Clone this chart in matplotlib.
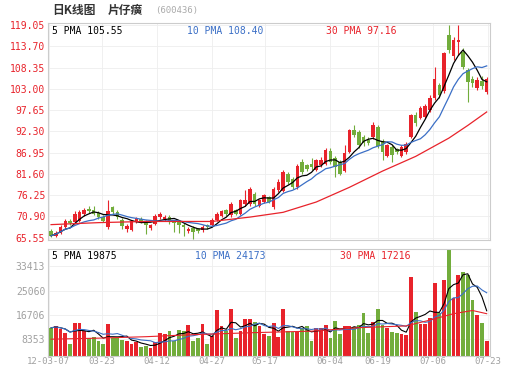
import numpy as np
import pandas as pd
import matplotlib.pyplot as plt

# daily bars 12-03-07 .. 07-23
opens = [67.2, 66.0, 66.8, 68.2, 69.8, 69.4, 69.8, 71.4, 72.8, 72.4,
         71.8, 70.8, 68.2, 73.2, 72.0, 70.0, 67.6, 67.4, 69.6, 70.2,
         69.6, 67.9, 69.0, 70.6, 70.2, 70.8, 69.6, 69.4, 68.8, 67.2,
         68.0, 67.6, 67.4, 68.6, 68.8, 70.0, 71.0, 72.4, 71.2, 72.4,
         71.6, 74.0, 74.0, 76.5, 73.6, 74.6, 75.7, 73.2, 77.5, 77.4,
         81.6, 80.3, 78.2, 84.6, 83.8, 84.2, 82.6, 83.8, 84.2, 87.4,
         85.6, 84.6, 82.4, 87.2, 92.6, 92.2, 91.0, 90.2, 90.8, 93.4,
         90.0, 86.2, 88.4, 87.8, 86.2, 87.0, 90.9, 96.4, 95.8, 96.0,
         97.6, 100.6, 104.0, 102.4, 116.6, 111.2, 114.9, 112.4, 107.7, 105.6,
         103.2, 105.0, 102.2]
closes = [66.0, 66.8, 68.2, 69.6, 69.2, 71.6, 72.0, 72.6, 72.2, 71.6,
          70.6, 69.8, 72.2, 72.0, 70.6, 68.4, 68.4, 69.8, 70.4, 69.6,
          68.6, 68.6, 71.0, 71.4, 70.8, 69.4, 69.2, 68.6, 68.2, 67.8,
          67.0, 67.2, 68.2, 68.2, 70.0, 71.4, 72.2, 71.6, 74.0, 71.6,
          74.9, 74.9, 77.8, 74.0, 74.9, 76.2, 74.6, 77.8, 79.5, 82.0,
          79.5, 78.2, 83.7, 82.0, 82.8, 83.2, 85.0, 85.0, 87.6, 84.6,
          83.4, 81.6, 86.8, 92.6, 91.3, 88.8, 89.5, 89.4, 93.8, 88.6,
          87.2, 88.8, 86.4, 87.0, 88.4, 89.2, 96.4, 94.3, 98.1, 98.6,
          100.6, 105.6, 101.5, 112.0, 112.8, 115.3, 115.4, 108.6, 104.8, 104.6,
          105.2, 103.8, 105.6]
highs = [67.6, 67.2, 68.6, 70.2, 70.2, 72.2, 72.6, 72.9, 73.4, 73.6,
         72.2, 71.2, 75.0, 73.6, 72.4, 70.4, 69.0, 70.0, 70.8, 70.6,
         70.0, 69.0, 71.6, 71.9, 71.2, 71.2, 70.0, 69.8, 69.2, 68.2,
         68.4, 68.0, 68.6, 69.0, 70.4, 72.0, 72.6, 72.8, 74.5, 72.8,
         75.3, 77.5, 78.3, 76.9, 75.3, 76.6, 76.1, 78.2, 80.2, 82.6,
         82.0, 80.7, 84.0, 85.4, 84.2, 85.6, 85.4, 85.8, 88.2, 88.0,
         86.0, 85.0, 88.8, 93.0, 93.8, 92.6, 91.4, 90.8, 94.7, 93.8,
         90.4, 89.2, 88.8, 88.2, 88.8, 89.6, 96.8, 97.2, 98.6, 99.2,
         101.5, 108.6, 104.6, 112.4, 119.05, 116.0, 119.05, 113.2, 108.4, 106.2,
         106.0, 106.3, 106.0]
lows = [65.6, 65.6, 66.5, 67.9, 68.8, 69.0, 69.5, 71.0, 71.8, 71.2,
        70.2, 69.4, 67.8, 71.6, 70.2, 67.6, 67.0, 67.2, 69.2, 69.2,
        66.5, 67.5, 68.6, 70.2, 69.8, 69.0, 67.0, 66.6, 66.0, 66.8,
        65.3, 66.8, 67.0, 67.6, 68.4, 69.6, 70.6, 71.0, 70.8, 71.2,
        71.2, 73.6, 73.6, 73.6, 73.2, 74.2, 74.2, 72.8, 77.1, 77.0,
        79.1, 77.8, 77.8, 81.6, 82.2, 82.6, 82.2, 83.4, 83.8, 84.2,
        80.8, 81.2, 82.0, 86.8, 90.8, 88.2, 88.6, 88.8, 90.4, 88.2,
        85.0, 85.8, 84.6, 86.6, 85.8, 86.6, 90.6, 93.6, 95.4, 95.6,
        97.2, 100.2, 100.8, 102.0, 112.0, 110.4, 111.6, 108.0, 99.6, 103.6,
        102.8, 103.0, 101.8]
volumes = [12361, 12918, 11804, 10691, 6793, 14031, 14031, 11248, 9021, 9244,
           7685, 6793, 13697, 9021, 9021, 8130, 7685, 6793, 7351, 5681,
           6237, 5347, 7351, 10691, 10134, 11248, 7908, 11470, 11248, 13253,
           7685, 8798, 13697, 6793, 9579, 18484, 13141, 11248, 18707, 8798,
           11248, 15256, 15478, 14365, 12918, 10134, 9579, 14031, 9356, 18707,
           11248, 11025, 11025, 12139, 12918, 7685, 12361, 12139, 13475, 9021,
           14810, 10357, 12918, 12918, 12584, 13253, 17371, 10691, 14254, 18818,
           13253, 12361, 11025, 10691, 10357, 9800, 29840, 17705, 13697, 13697,
           15701, 27725, 17371, 28838, 39400, 22610, 30397, 31600, 30500, 22000,
           16800, 14031, 7685]

# 30-day averages need data from before the window, so read them off the chart
ma30_days = [0, 10, 20, 34, 42, 49, 56, 63, 70, 77, 84, 88, 92]
ma30_vals = [68.8, 69.3, 69.6, 69.6, 70.7, 71.9, 74.5, 78.2, 82.3, 86.0, 90.6, 93.8, 97.2]
vma30_days = [0, 10, 20, 30, 43, 55, 65, 75, 80, 85, 89, 92]
vma30_vals = [8450, 8800, 9300, 10000, 10700, 11200, 12400, 13000, 15000, 17200, 18300, 17200]

price_ticks = [65.55, 70.90, 76.25, 81.60, 86.95, 92.30, 97.65, 103.00, 108.35, 113.70, 119.05]
vol_ticks = [8353, 16706, 25060, 33413]
date_labels = ['12-03-07', '03-23', '04-12', '04-27', '05-17', '06-04', '06-19', '07-06', '07-23']
date_pos = [-0.5, 10.8, 22.4, 34.0, 45.1, 58.9, 69.0, 80.6, 92.2]

RED = '#e8232b'
GREEN = '#72ad3c'
BLUE = '#3b6fc6'
MONO = 'DejaVu Sans Mono'

n = len(closes)
x = np.arange(n)
o = np.array(opens); c = np.array(closes)
up = c >= o
cols = [RED if u else GREEN for u in up]
ma5 = pd.Series(closes).rolling(5, min_periods=1).mean()
ma10 = pd.Series(closes).rolling(10, min_periods=1).mean()
vma5 = pd.Series(volumes).rolling(5, min_periods=1).mean()
vma10 = pd.Series(volumes).rolling(10, min_periods=1).mean()

fig = plt.figure(figsize=(5.09, 3.67), dpi=100, facecolor='white')
ax = fig.add_axes([0.0943, 0.3447, 0.8684, 0.5913])
axv = fig.add_axes([0.0943, 0.030, 0.8684, 0.2915])

# candles
ax.vlines(x, lows, highs, colors=cols, lw=0.8, zorder=2)
ax.bar(x, np.abs(c - o), bottom=np.minimum(o, c), width=0.75, color=cols, zorder=3)
ax.plot(x, ma5, color='black', lw=0.9, zorder=4)
ax.plot(x, ma10, color=BLUE, lw=0.9, zorder=4)
ax.plot(ma30_days, ma30_vals, color=RED, lw=0.9, zorder=4)

# volume
axv.bar(x, volumes, width=0.8, color=cols, zorder=2)
axv.plot(x, vma5, color='black', lw=0.8, zorder=3)
axv.plot(x, vma10, color=BLUE, lw=0.8, zorder=3)
axv.plot(vma30_days, vma30_vals, color=RED, lw=0.8, zorder=3)

for a in (ax, axv):
    a.set_xlim(-0.65, 92.7)
    a.set_xticks(date_pos)
    a.grid(True, color='#eeeeee', lw=0.6, zorder=0)
    a.set_axisbelow(True)
    a.tick_params(length=0, pad=2)
    for s in a.spines.values():
        s.set_color('#cccccc')
        s.set_linewidth(0.8)

ax.set_ylim(64.8, 119.5)
ax.set_yticks(price_ticks)
ax.set_yticklabels(['%.2f' % t for t in price_ticks], color=RED, family=MONO, fontsize=7)
ax.set_xticklabels([])

axv.set_ylim(2675, 39415)
axv.set_yticks(vol_ticks)
axv.set_yticklabels([str(t) for t in vol_ticks], color='#a0a0a0', family=MONO, fontsize=7)
axv.set_xticklabels(date_labels, color='#a0a0a0', family=MONO, fontsize=6.5)
axv.tick_params(axis='x', pad=0.5)

ax.text(0.009, 0.965, '5 PMA 105.55', transform=ax.transAxes, family=MONO, fontsize=7, va='center')
ax.text(0.3145, 0.965, '10 PMA 108.40', transform=ax.transAxes, family=MONO, fontsize=7, va='center', color=BLUE)
ax.text(0.629, 0.965, '30 PMA 97.16', transform=ax.transAxes, family=MONO, fontsize=7, va='center', color=RED)
axv.text(0.009, 0.93, '5 PMA 19875', transform=axv.transAxes, family=MONO, fontsize=7, va='center')
axv.text(0.3326, 0.93, '10 PMA 24173', transform=axv.transAxes, family=MONO, fontsize=7, va='center', color=BLUE)
axv.text(0.66, 0.93, '30 PMA 17216', transform=axv.transAxes, family=MONO, fontsize=7, va='center', color=RED)

cjk = ['Noto Sans CJK SC', 'DejaVu Sans']
fig.text(0.102, 0.972, '日K线图', family=cjk, fontsize=8.5, fontweight='bold', va='center', color='#333333')
fig.text(0.212, 0.972, '片仔癀', family=cjk, fontsize=8.5, fontweight='bold', va='center', color='#333333')
fig.text(0.3045, 0.972, '(600436)', family=MONO, fontsize=6.5, va='center', color='#aaaaaa')

fig.savefig('out.png', dpi=100, facecolor='white')
